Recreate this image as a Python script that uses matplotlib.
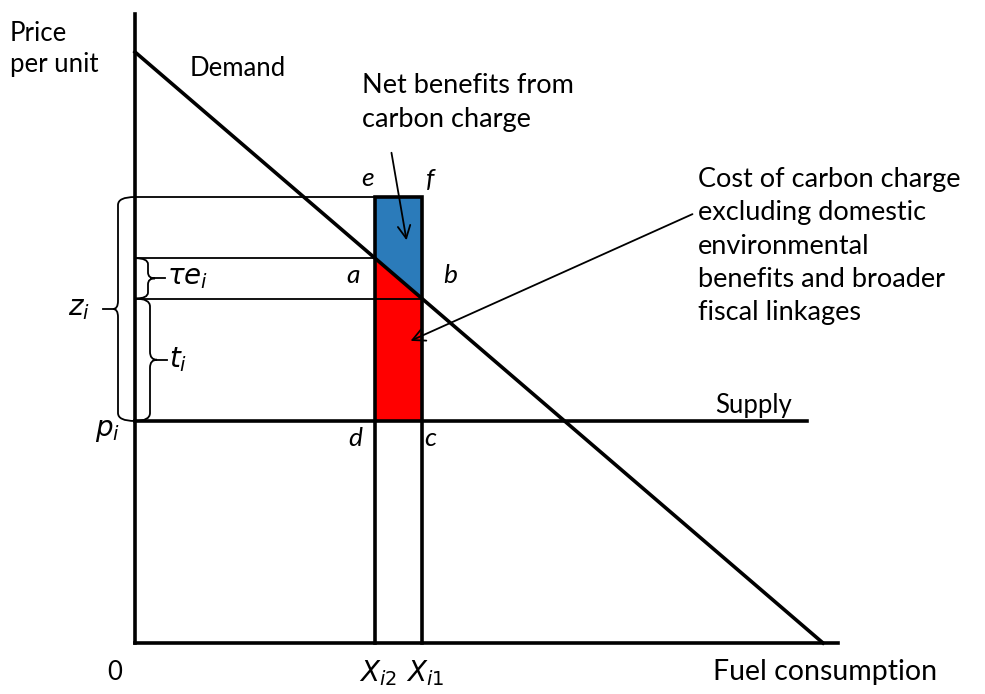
import matplotlib.pyplot as plt
from matplotlib.path import Path
from matplotlib.patches import PathPatch, Polygon
import numpy as np

plt.rcParams['font.family'] = ['Lato', 'DejaVu Sans']

# curve data (x = fuel consumption, y = price, arbitrary units)
demand_x = [0, 688]
demand_y = [591, 0]
p_i = 222
supply_end = 672
x_i2 = 240
x_i1 = 287
z_top = 446

def demand(x):
    return np.interp(x, demand_x, demand_y)

a_lvl = float(demand(x_i2))
b_lvl = float(demand(x_i1))

blue = '#2B7BBA'
red = '#FF0000'
FS = 18.5
FS_BIG = 19.5

fig = plt.figure(figsize=(9.85, 6.94), dpi=100)
ax = fig.add_axes([0, 0, 1, 1])
ax.set_xlim(-135, 850)
ax.set_ylim(-51, 643)
ax.axis('off')

# shaded areas
ax.add_patch(Polygon([(x_i2, p_i), (x_i2, a_lvl), (x_i1, b_lvl), (x_i1, p_i)],
                     closed=True, fc=red, ec='none', zorder=1))
ax.add_patch(Polygon([(x_i2, a_lvl), (x_i2, z_top), (x_i1, z_top), (x_i1, b_lvl)],
                     closed=True, fc=blue, ec='none', zorder=1))

# thin guide lines
ax.plot([0, x_i2], [z_top, z_top], color='black', lw=1.3, zorder=2)
ax.plot([0, x_i2], [a_lvl, a_lvl], color='black', lw=1.3, zorder=2)
ax.plot([0, x_i1], [b_lvl, b_lvl], color='black', lw=1.3, zorder=2)

# axes
ax.plot([0, 0], [0, 629], color='black', lw=2.6, solid_capstyle='projecting', zorder=4)
ax.plot([0, 703], [0, 0], color='black', lw=2.6, solid_capstyle='projecting', zorder=4)

# supply and demand
ax.plot([0, supply_end], [p_i, p_i], color='black', lw=2.6, zorder=4)
ax.plot(demand_x, demand_y, color='black', lw=2.6, zorder=4)

# column around the charge
ax.plot([x_i2, x_i2, x_i1, x_i1], [0, z_top, z_top, 0], color='black', lw=2.6,
        solid_joinstyle='miter', zorder=4)


def brace(x_end, x_line, x_tip, y0, y1, r=8):
    ym = (y0 + y1) / 2
    verts = [(x_end, y1), (x_line, y1), (x_line, y1 - r),
             (x_line, ym + r), (x_line, ym), (x_tip, ym),
             (x_line, ym), (x_line, ym - r),
             (x_line, y0 + r), (x_line, y0), (x_end, y0)]
    codes = [Path.MOVETO, Path.CURVE3, Path.CURVE3,
             Path.LINETO, Path.CURVE3, Path.CURVE3,
             Path.CURVE3, Path.CURVE3,
             Path.LINETO, Path.CURVE3, Path.CURVE3]
    ax.add_patch(PathPatch(Path(verts, codes), fc='none', ec='black', lw=1.3, zorder=3))
    return ym


ym = brace(0, -17, -22, p_i, z_top)
ax.plot([-22, -32], [ym, ym], color='black', lw=1.3)
ax.text(-45, ym, r'$z_i$', fontsize=20, ha='right', va='center')

ym = brace(0, 13, 20, b_lvl, a_lvl, r=6)
ax.plot([20, 30], [ym, ym], color='black', lw=1.3)
ax.text(32, ym, r'$\tau e_i$', fontsize=20, ha='left', va='center')

ym = brace(0, 15, 22, p_i, b_lvl)
ax.plot([22, 32], [ym, ym], color='black', lw=1.3)
ax.text(34, ym, r'$t_i$', fontsize=20, ha='left', va='center')

ax.text(-40, p_i - 10, r'$p_i$', fontsize=20, ha='left', va='center')

# point labels
for s, x, y in [('e', x_i2 - 7, z_top + 18), ('f', x_i1 + 8, z_top + 18),
                ('a', x_i2 - 22, a_lvl - 17), ('b', x_i1 + 28, a_lvl - 17),
                ('d', x_i2 - 20, p_i - 17), ('c', x_i1 + 8, p_i - 17)]:
    ax.text(x, y, s, fontsize=19, style='italic', ha='center', va='center')

ax.text(x_i2 + 3, -30, r'$X_{i2}$', fontsize=20, ha='center', va='center')
ax.text(x_i1 + 3, -30, r'$X_{i1}$', fontsize=20, ha='center', va='center')
ax.text(-20, -30, '0', fontsize=FS, ha='center', va='center')

ax.text(-125, 594, 'Price\nper unit', fontsize=FS, ha='left', va='center', linespacing=1.3)
ax.text(55, 575, 'Demand', fontsize=FS, ha='left', va='center')
ax.text(580, 238, 'Supply', fontsize=FS, ha='left', va='center')
ax.text(578, -29, 'Fuel consumption', fontsize=20.5, ha='left', va='center')

ax.text(227, 541, 'Net benefits from\ncarbon charge', fontsize=FS_BIG, ha='left',
        va='center', linespacing=1.45)
ax.text(563, 397, 'Cost of carbon charge\nexcluding domestic\nenvironmental\n'
        'benefits and broader\nfiscal linkages', fontsize=FS_BIG, ha='left',
        va='center', linespacing=1.42)

arrow = dict(arrowstyle='->,head_length=0.9,head_width=0.45', color='black', lw=1.3)
ax.annotate('', xy=(272, 400), xytext=(256, 493), arrowprops=arrow)
ax.annotate('', xy=(273, 301), xytext=(560, 430), arrowprops=arrow)

fig.savefig('out.png', dpi=100)
